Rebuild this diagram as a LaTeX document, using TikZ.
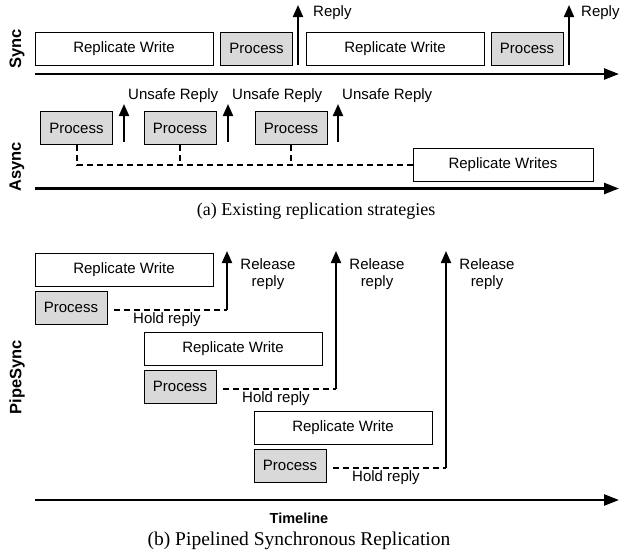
\documentclass[tikz,border=0pt]{standalone}
\usepackage{fontspec}
\setmainfont{Liberation Sans}
\newfontfamily\capfont{Liberation Serif}
\usetikzlibrary{arrows.meta,calc}
\definecolor{procgray}{RGB}{217,217,217}
\begin{document}
\begin{tikzpicture}[x=1pt,y=-1pt,
  txt/.style={font=\fontsize{15}{18}\selectfont},
  rwbox/.style={draw,line width=1pt,fill=white,minimum width=178pt,minimum height=33pt,inner sep=0pt,txt},
  procbox/.style={draw,line width=1pt,fill=procgray,minimum width=72pt,minimum height=33pt,inner sep=0pt,txt},
  lbl/.style={inner sep=0pt,txt},
  rowlbl/.style={rotate=90,inner sep=0pt,font=\fontsize{16.5}{19}\selectfont\bfseries},
  caption/.style={inner sep=0pt,font=\capfont\fontsize{18}{21}\selectfont},
  axis/.style={line width=2.5pt,-{Triangle[length=15pt,width=11pt]}},
  reply/.style={line width=2pt,-{Triangle[length=12pt,width=10pt]}},
  hold/.style={line width=2pt,dash pattern=on 6pt off 4pt},
]
\useasboundingbox (0,0) rectangle (620,554);

% ---------- Sync ----------
\node[rowlbl] (lsync) at (17,49) {Sync};
\node[rwbox] (srw1) at (124,48.5) {Replicate Write};
\node[procbox] (sp1) at (256.5,48.5) {Process};
\node[rwbox] (srw2) at (395,48.5) {Replicate Write};
\node[procbox] (sp2) at (527,48.5) {Process};
\coordinate (sa1b) at (298,65);
\coordinate (sa1t) at (298,5);
\coordinate (sa2b) at (569,65);
\coordinate (sa2t) at (569,5);
\draw[reply] (sa1b) -- (sa1t);
\draw[reply] (sa2b) -- (sa2t);
\node[lbl,anchor=west] (sr1) at (313,13) {Reply};
\node[lbl,anchor=west] (sr2) at (581,13) {Reply};
\coordinate (sx0) at (35,74);
\coordinate (sx1) at (619,74);
\draw[axis] (sx0) -- (sx1);

% ---------- Async ----------
\node[rowlbl] (lasync) at (17,167) {Async};
\node[procbox] (ap1) at (76.5,128) {Process};
\node[procbox] (ap2) at (180,128) {Process};
\node[procbox] (ap3) at (291,128) {Process};
\coordinate (aa1b) at (124,142);
\coordinate (aa1t) at (124,104);
\coordinate (aa2b) at (228,142);
\coordinate (aa2t) at (228,104);
\coordinate (aa3b) at (338,142);
\coordinate (aa3t) at (338,104);
\draw[reply] (aa1b) -- (aa1t);
\draw[reply] (aa2b) -- (aa2t);
\draw[reply] (aa3b) -- (aa3t);
\node[lbl,anchor=west] (ur1) at (128,96) {Unsafe Reply};
\node[lbl,anchor=west] (ur2) at (232,96) {Unsafe Reply};
\node[lbl,anchor=west] (ur3) at (342,96) {Unsafe Reply};
\node[rwbox,minimum width=180pt] (arw) at (503,165) {Replicate Writes};
\draw[hold] (ap1.south) |- (arw.west);
\draw[hold] (ap2.south) -- (ap2.south |- arw.west);
\draw[hold] (ap3.south) -- (ap3.south |- arw.west);
\coordinate (ax0) at (35,188.5);
\coordinate (ax1) at (619,188.5);
\draw[axis] (ax0) -- (ax1);

\node[caption] (capa) at (316,211) {(a) Existing replication strategies};

% ---------- PipeSync ----------
\node[rowlbl] (lpipe) at (17,377) {PipeSync};
\foreach \i/\dx/\dy in {1/0/0,2/109/79,3/219/158}{
  \node[rwbox] (prw\i) at (124+\dx,269.5+\dy) {Replicate Write};
  \node[procbox] (pp\i) at (71+\dx,307.5+\dy) {Process};
  \coordinate (ph\i) at (227+\dx,310+\dy);
  \coordinate (pt\i) at (227+\dx,251);
  \draw[hold] ([xshift=6pt]pp\i.east |- ph\i) -- (ph\i);
  \draw[reply] (ph\i) -- (pt\i);
  \node[lbl] (hr\i) at (167+\dx,320+\dy) {Hold reply};
  \node[lbl,align=center,font=\fontsize{15}{17}\selectfont] (rr\i) at (268+\dx,274) {Release\\reply};
}
\coordinate (tx0) at (35,500);
\coordinate (tx1) at (619,500);
\draw[axis] (tx0) -- (tx1);
\node[inner sep=0pt,font=\fontsize{14.5}{17}\selectfont\bfseries] (tl) at (299,518) {Timeline};
\node[caption,font=\capfont\fontsize{19.5}{22}\selectfont] (capb) at (299,541) {(b) Pipelined Synchronous Replication};
\end{tikzpicture}
\end{document}
